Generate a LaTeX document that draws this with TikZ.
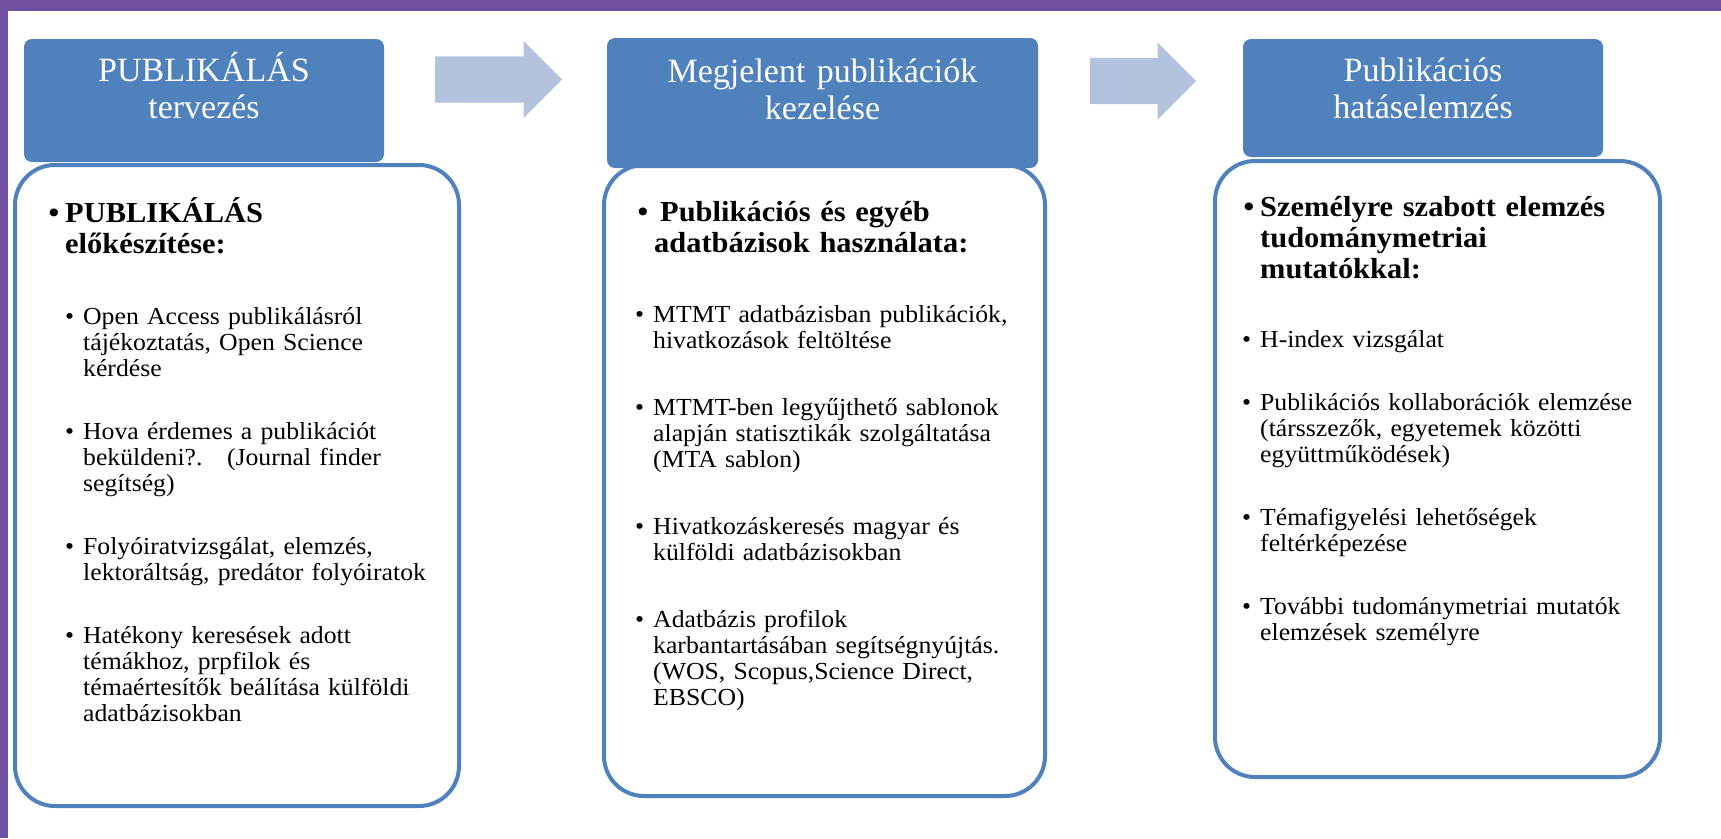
\documentclass[tikz,border=0pt]{standalone}
\usepackage{fontspec}
\setmainfont{Liberation Serif}
\newfontfamily\panelfont[FakeStretch=1.05]{Liberation Serif}
\usepackage{tikz}
\usetikzlibrary{positioning, shapes.arrows}
\definecolor{SlideBlue}  {HTML}{4F81BD}
\definecolor{ArrowBlue}  {HTML}{B3C3DE}
\definecolor{FramePurple}{HTML}{7050A0}
\definecolor{FrameLight} {HTML}{8264AC}

\newlength{\itemgap}
\setlength{\itemgap}{37pt}
\newcommand{\ptitle}{\leavevmode\llap{\textbullet\hspace{6pt}}}
\newcommand{\pitem}[1]{\leavevmode\llap{\textbullet\hspace{9pt}}#1\par\vspace{\itemgap}}

\begin{document}
\begin{tikzpicture}[
  x=1pt, y=-1pt,
  headbox/.style={fill=SlideBlue, rounded corners=8pt, inner sep=0pt},
  headtext/.style={text=white, font=\fontsize{34}{37}\selectfont,
    align=center, text width=420pt, inner sep=0pt, anchor=base},
  panel/.style={draw=SlideBlue, line width=4pt, fill=white,
    rounded corners=40pt, inner sep=0pt},
  paneltitle/.style={font=\panelfont\bfseries\fontsize{29}{31}\selectfont,
    align=left, text width=380pt, inner sep=0pt, anchor=base west},
  panellist/.style={font=\panelfont\fontsize{24.5}{26}\selectfont,
    align=left, text width=380pt, inner sep=0pt, anchor=base west},
  flowarrow/.style={single arrow, fill=ArrowBlue, draw=none,
    inner xsep=0pt, inner ysep=23pt, minimum width=77pt,
    single arrow head extend=15.5pt, anchor=tail},
]
\useasboundingbox (0,0) rectangle (1721,838);
\fill[white] (0,0) rectangle (1721,838);

% slide frame
\shade[left color=FramePurple, middle color=FrameLight, right color=FramePurple]
  (0,0) rectangle (1721,10);
\fill[FramePurple] (0,0) rectangle (8,838);

% Panels
\node[panel, minimum width=444pt, minimum height=641pt] (b1) at (237,485.5) {};
\node[panel, minimum width=441pt, minimum height=631pt] (b2) at (824.5,480.5) {};
\node[panel, minimum width=445pt, minimum height=616pt] (b3) at (1437.5,469) {};

% Headers
\node[headbox, minimum width=360pt, minimum height=123pt] (h1) at (204,100.5) {};
\node[headbox, minimum width=431pt, minimum height=130pt] (h2) at (822.5,103) {};
\node[headbox, minimum width=360pt, minimum height=118pt] (h3) at (1423,98) {};

\node[headtext] (h1txt) at ([yshift=-43pt]h1.north) {PUBLIKÁLÁS\\tervezés};
\node[headtext] (h2txt) at ([yshift=-45pt]h2.north) {Megjelent publikációk\\kezelése};
\node[headtext] (h3txt) at ([yshift=-43pt]h3.north) {Publikációs\\hatáselemzés};

% Arrows between the steps
\node[flowarrow, minimum height=127pt] (a1) at (435,79.5) {};
\node[flowarrow, minimum height=106pt] (a2) at (1090,81) {};

% Panel titles
\node[paneltitle] (b1t) at (65,222) {\ptitle PUBLIKÁLÁS\\előkészítése:};
\node[paneltitle] (b2t) at (654,221)
  {\ptitle\hspace{6pt}Publikációs és egyéb\\adatbázisok használata:};
\node[paneltitle] (b3t) at (1260,216)
  {\ptitle Személyre szabott elemzés\\tudománymetriai\\mutatókkal:};

% Panel lists
\node[panellist] (b1l) at (83,324.5) {
  \pitem{Open Access publikálásról\\tájékoztatás, Open Science\\kérdése}
  \pitem{Hova érdemes a publikációt\\beküldeni?.~~~(Journal finder\\segítség)}
  \pitem{Folyóiratvizsgálat, elemzés,\\lektoráltság, predátor folyóiratok}
  \pitem{Hatékony keresések adott\\témákhoz, prpfilok és\\témaértesítők beálítása külföldi\\adatbázisokban}};
\node[panellist] (b2l) at (653,322) {\setlength{\itemgap}{41pt}%
  \pitem{MTMT adatbázisban publikációk,\\hivatkozások feltöltése}
  \pitem{MTMT-ben legyűjthető sablonok\\alapján statisztikák szolgáltatása\\(MTA sablon)}
  \pitem{Hivatkozáskeresés magyar és\\külföldi adatbázisokban}
  \pitem{Adatbázis profilok\\karbantartásában segítségnyújtás.\\(WOS, Scopus,Science Direct,\\EBSCO)}};
\node[panellist] (b3l) at (1260,347) {
  \pitem{H-index vizsgálat}
  \pitem{Publikációs kollaborációk elemzése\\(társszezők, egyetemek közötti\\együttműködések)}
  \pitem{Témafigyelési lehetőségek\\feltérképezése}
  \pitem{További tudománymetriai mutatók\\elemzések személyre}};

\end{tikzpicture}
\end{document}
